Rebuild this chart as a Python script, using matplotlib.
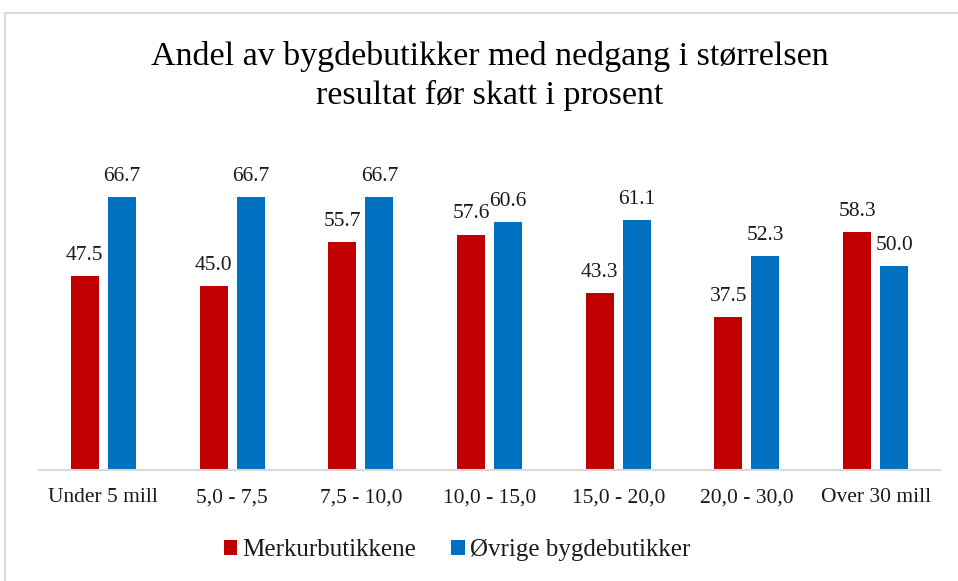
import numpy as np
import matplotlib.pyplot as plt
from matplotlib.patches import Rectangle

categories = ["Under 5 mill", "5,0 - 7,5", "7,5 - 10,0", "10,0 - 15,0",
              "15,0 - 20,0", "20,0 - 30,0", "Over 30 mill"]
merkur = [47.5, 45.0, 55.7, 57.6, 43.3, 37.5, 58.3]
ovrige = [66.7, 66.7, 66.7, 60.6, 61.1, 52.3, 50.0]
series_names = ["Merkurbutikkene", "Øvrige bygdebutikker"]

red = "#C00000"
blue = "#0070C0"
serif = ["Liberation Serif", "DejaVu Serif"]
plt.rcParams['font.family'] = serif

fig = plt.figure(figsize=(9.58, 5.81), dpi=100)
ax = fig.add_axes([39 / 958, 111 / 581, 901 / 958, 327 / 581])

x = np.arange(len(categories))
w = 0.218
off = 0.144
b1 = ax.bar(x - off, merkur, w, color=red, label=series_names[0])
b2 = ax.bar(x + off, ovrige, w, color=blue, label=series_names[1])

for bars, vals in ((b1, merkur), (b2, ovrige)):
    for rect, v in zip(bars, vals):
        ax.annotate(f"{v:.1f}", (rect.get_x() + rect.get_width() / 2, v),
                    xytext=(0, 8), textcoords="offset points",
                    ha="center", va="bottom", fontsize=15.5, color="#1a1a1a")

ax.set_xlim(-0.5, len(categories) - 0.5)
ax.set_ylim(0, 80)
ax.set_yticks([])
ax.set_xticks(x)
ax.set_xticklabels(categories, fontsize=15.5, color="#1a1a1a")
ax.tick_params(axis="x", length=0, pad=13)
for side in ("top", "right", "left"):
    ax.spines[side].set_visible(False)
ax.spines["bottom"].set_color("#d9d9d9")
ax.spines["bottom"].set_linewidth(1.5)

fig.text(490 / 958, 1 - 76 / 581,
         "Andel av bygdebutikker med nedgang i størrelsen\nresultat før skatt i prosent",
         ha="center", va="center", fontsize=24.5, linespacing=1.3)

leg = fig.legend(handles=[b1, b2], loc="center", bbox_to_anchor=(457 / 958, 1 - 550 / 581),
                 ncol=2, frameon=False, fontsize=18, handlelength=0.55, handleheight=0.55,
                 handletextpad=0.2, columnspacing=1.4, labelcolor="#1a1a1a")

fig.patches.append(Rectangle((5 / 958, -0.1), 1.1, 1 - 13 / 581 + 0.1,
                             transform=fig.transFigure, fill=False,
                             edgecolor="#d9d9d9", linewidth=1.5))

fig.savefig("out.png", dpi=100)
